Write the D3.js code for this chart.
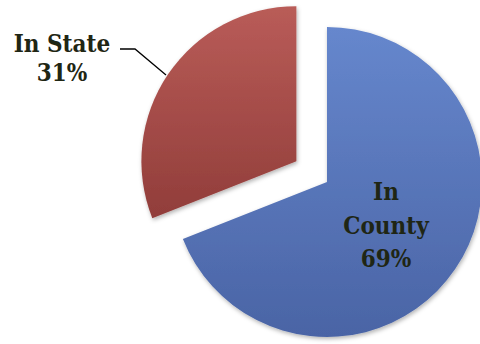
<!DOCTYPE html>
<html>
<head>
<meta charset="utf-8">
<script src="https://cdn.jsdelivr.net/npm/d3@7"></script>
<style>
  html, body { margin: 0; padding: 0; background: #fff; }
  svg { display: block; }
</style>
</head>
<body>
<svg id="chart" width="480" height="344"></svg>
<script>
// Residence breakdown
const categories = ["In County", "In State"];
const values = [69, 31];
const labelLines = [["In", "County", "69%"], ["In State", "31%"]];

const width = 480, height = 344;
const cx = 327, cy = 182, radius = 155;
const explode = [0, 37];

const svg = d3.select("#chart");
const defs = svg.append("defs");

// vertical gradients per slice
const grads = [
  { id: "gBlue", top: "#6687cd", bottom: "#4a64a5" },
  { id: "gRed", top: "#b95c58", bottom: "#913d3a" }
];
grads.forEach(g => {
  const lg = defs.append("linearGradient").attr("id", g.id)
    .attr("x1", 0).attr("y1", 0).attr("x2", 0).attr("y2", 1);
  lg.append("stop").attr("offset", "0%").attr("stop-color", g.top);
  lg.append("stop").attr("offset", "100%").attr("stop-color", g.bottom);
});

const shadow = defs.append("filter").attr("id", "shadow")
  .attr("x", "-10%").attr("y", "-10%").attr("width", "130%").attr("height", "130%");
shadow.append("feDropShadow").attr("dx", 1).attr("dy", 2).attr("stdDeviation", 2)
  .attr("flood-color", "#000").attr("flood-opacity", 0.3);

const pie = d3.pie().sort(null).value(d => d);
const arcs = pie(values);
const arc = d3.arc().innerRadius(0).outerRadius(radius);

const g = svg.append("g").attr("transform", `translate(${cx},${cy})`);

arcs.forEach((a, i) => {
  const mid = (a.startAngle + a.endAngle) / 2;
  const dx = Math.sin(mid) * explode[i], dy = -Math.cos(mid) * explode[i];
  g.append("path")
    .attr("d", arc(a))
    .attr("transform", `translate(${dx},${dy})`)
    .attr("fill", `url(#${grads[i].id})`)
    .attr("filter", "url(#shadow)");
});

const font = "'DejaVu Serif Condensed', 'DejaVu Serif', serif";
const textColor = "#1f2614";

// inside label for the large slice
const countyText = svg.append("text")
  .attr("text-anchor", "middle")
  .attr("font-family", font).attr("font-weight", "bold").attr("font-size", 24)
  .attr("font-stretch", "condensed")
  .attr("fill", textColor);
labelLines[0].forEach((t, k) => {
  countyText.append("tspan").attr("x", 386).attr("y", 200 + k * 33.5).text(t);
});

// outside label with leader line for the exploded slice
const stateText = svg.append("text")
  .attr("text-anchor", "middle")
  .attr("font-family", font).attr("font-weight", "bold").attr("font-size", 24)
  .attr("font-stretch", "condensed")
  .attr("fill", textColor);
labelLines[1].forEach((t, k) => {
  stateText.append("tspan").attr("x", 62).attr("y", 52 + k * 29).text(t);
});

svg.append("path")
  .attr("d", d3.line()([[120, 49], [135, 49], [166, 75]]))
  .attr("fill", "none").attr("stroke", "#000").attr("stroke-width", 1.3);
</script>
</body>
</html>
